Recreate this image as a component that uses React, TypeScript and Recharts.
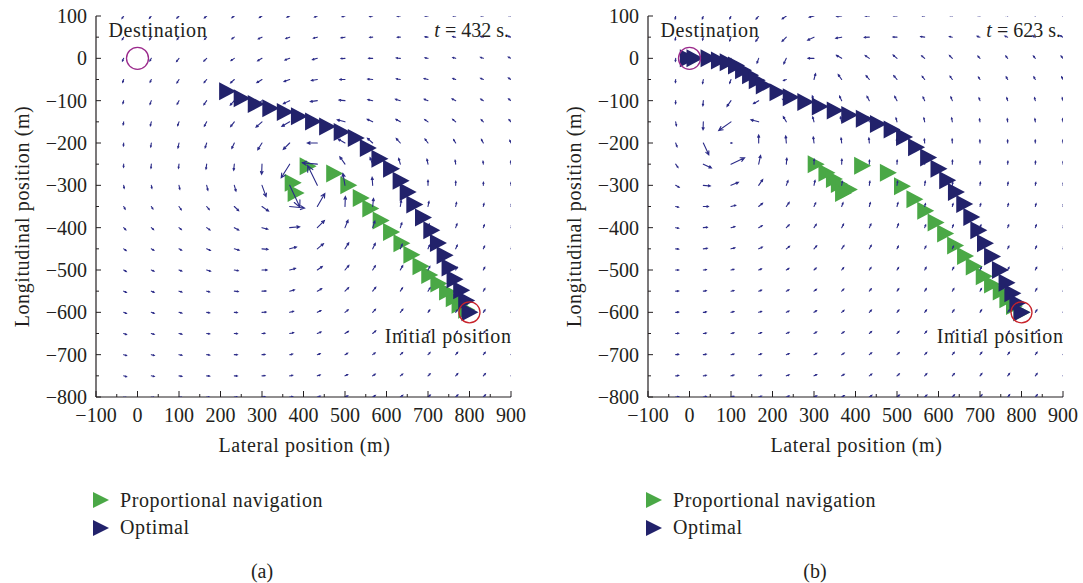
import React from 'react';
import { ScatterChart, Scatter, XAxis, YAxis, ReferenceDot } from 'recharts';

// quiver grid (m)
const FIELD_X = [-33.3, 33.3, 100, 166.7, 233.3, 300, 366.7, 433.3, 500, 566.7, 633.3, 700, 766.7, 833.3, 900];
const FIELD_Y = [100, 50, 0, -50, -100, -150, -200, -250, -300, -350, -400, -450, -500, -550, -600, -650, -700, -750, -800];

// arrow direction (deg, counter-clockwise from +x) and drawn magnitude, panel (a)
const ANGLE_A = [
  [235, 230, 225, 220, 215, 210, 205, 200, 195, 190, 185, 180, 175, 170, 165],
  [240, 235, 230, 225, 215, 205, 200, 195, 190, 185, 180, 175, 170, 165, 160],
  [245, 240, 232, 225, 215, 210, 200, 195, 185, 180, 175, 170, 165, 160, 155],
  [250, 245, 238, 230, 222, 212, 200, 190, 180, 175, 170, 165, 160, 155, 150],
  [255, 250, 242, 235, 228, 218, 205, 188, 175, 168, 163, 158, 153, 148, 145],
  [260, 256, 250, 242, 232, 222, 210, 185, 165, 155, 150, 145, 140, 135, 132],
  [265, 262, 258, 252, 245, 238, 225, 180, 150, 138, 132, 127, 122, 118, 115],
  [267, 265, 263, 262, 264, 268, 238, 175, 125, 112, 106, 102, 98, 96, 95],
  [280, 281, 282, 284, 286, 290, 295, 116, 100, 94, 92, 90, 89, 88, 88],
  [300, 302, 305, 310, 316, 325, 354, 60, 88, 84, 81, 79, 78, 77, 76],
  [315, 318, 321, 325, 331, 345, 5, 45, 68, 72, 72, 71, 70, 69, 68],
  [325, 328, 332, 337, 344, 355, 15, 40, 58, 64, 67, 67, 66, 65, 64],
  [330, 334, 338, 343, 349, 0, 15, 35, 50, 57, 61, 62, 62, 61, 60],
  [335, 338, 342, 347, 353, 3, 15, 30, 44, 52, 56, 58, 58, 58, 58],
  [338, 341, 345, 350, 356, 4, 14, 26, 38, 46, 51, 54, 55, 55, 55],
  [340, 343, 347, 352, 357, 4, 12, 22, 33, 41, 46, 50, 52, 53, 53],
  [342, 345, 349, 353, 358, 4, 11, 20, 29, 36, 42, 46, 49, 50, 50],
  [344, 347, 350, 354, 358, 3, 10, 18, 26, 33, 38, 43, 46, 47, 48],
  [345, 348, 351, 355, 358, 3, 9, 16, 23, 30, 35, 40, 43, 45, 46],
];
const MAG_A = [
  [3, 3, 3, 3, 3, 3, 3, 3, 3, 3, 3, 3, 3, 3, 3],
  [3, 3, 3, 3, 3, 4, 4, 4, 4, 3, 3, 3, 3, 3, 3],
  [3, 3, 4, 4, 4, 5, 5, 5, 4, 4, 4, 3, 3, 3, 3],
  [3, 3, 4, 4, 5, 6, 6, 6, 5, 5, 4, 4, 3, 3, 3],
  [3, 4, 4, 5, 6, 7, 7, 7, 6, 5, 5, 4, 4, 3, 3],
  [3, 4, 4, 5, 6, 8, 9, 9, 8, 6, 5, 4, 4, 3, 3],
  [3, 4, 5, 5, 6, 8, 9, 10, 8, 7, 6, 5, 4, 4, 3],
  [3, 4, 4, 5, 6, 10, 16, 15, 9, 7, 6, 5, 4, 3, 3],
  [3, 3, 4, 5, 6, 12, 24, 22, 12, 8, 6, 5, 4, 3, 3],
  [3, 3, 4, 4, 6, 8, 15, 15, 10, 8, 6, 5, 4, 3, 3],
  [3, 3, 3, 4, 5, 6, 10, 10, 8, 7, 5, 4, 4, 3, 3],
  [3, 3, 3, 4, 5, 6, 7, 8, 7, 6, 5, 4, 4, 3, 3],
  [3, 3, 3, 4, 4, 5, 6, 6, 6, 5, 5, 4, 3, 3, 3],
  [3, 3, 3, 3, 4, 4, 5, 5, 5, 5, 4, 4, 3, 3, 3],
  [3, 3, 3, 3, 3, 4, 4, 4, 4, 4, 4, 3, 3, 3, 3],
  [3, 3, 3, 3, 3, 3, 4, 4, 4, 4, 3, 3, 3, 3, 3],
  [3, 3, 3, 3, 3, 3, 3, 3, 3, 3, 3, 3, 3, 3, 3],
  [3, 3, 3, 3, 3, 3, 3, 3, 3, 3, 3, 3, 3, 3, 3],
  [3, 3, 3, 3, 3, 3, 3, 3, 3, 3, 3, 3, 3, 3, 3],
];

// panel (b)
const ANGLE_B = [
  [260, 250, 245, 230, 215, 195, 185, 180, 175, 170, 165, 160, 155, 150, 150],
  [260, 255, 250, 235, 225, 205, 190, 182, 178, 172, 168, 162, 158, 155, 150],
  [265, 260, 255, 250, 245, 180, 150, 145, 140, 140, 135, 135, 130, 130, 130],
  [265, 260, 250, 240, 200, 75, 125, 130, 130, 128, 125, 122, 120, 120, 118],
  [268, 265, 235, 210, 160, 110, 115, 118, 118, 115, 112, 110, 108, 105, 105],
  [280, 268, 215, 165, 120, 105, 105, 105, 105, 102, 100, 100, 98, 98, 98],
  [290, 295, 0, 90, 95, 97, 97, 95, 95, 95, 93, 93, 92, 92, 92],
  [305, 335, 25, 78, 85, 88, 88, 88, 88, 88, 88, 88, 86, 86, 86],
  [330, 355, 22, 55, 70, 78, 80, 82, 82, 82, 82, 82, 82, 80, 80],
  [345, 0, 15, 40, 55, 65, 70, 75, 75, 75, 75, 75, 75, 75, 75],
  [350, 5, 15, 30, 45, 55, 62, 65, 68, 70, 70, 70, 70, 70, 70],
  [355, 8, 15, 25, 38, 48, 55, 60, 63, 65, 66, 66, 66, 66, 66],
  [0, 8, 15, 22, 32, 42, 50, 55, 58, 60, 62, 62, 62, 62, 62],
  [2, 8, 14, 20, 28, 37, 45, 50, 54, 57, 58, 60, 60, 60, 60],
  [4, 8, 13, 18, 25, 33, 40, 46, 50, 53, 55, 57, 57, 57, 57],
  [5, 9, 13, 17, 23, 30, 37, 42, 47, 50, 52, 54, 55, 55, 55],
  [6, 9, 13, 16, 21, 27, 33, 39, 44, 47, 50, 52, 53, 53, 53],
  [7, 10, 13, 16, 20, 25, 31, 36, 41, 45, 48, 50, 51, 51, 51],
  [8, 10, 13, 16, 19, 24, 29, 34, 38, 42, 45, 48, 50, 50, 50],
];
const MAG_B = [
  [3, 3, 3, 4, 5, 5, 5, 4, 4, 3, 3, 3, 3, 3, 3],
  [3, 3, 4, 5, 6, 7, 6, 5, 4, 4, 3, 3, 3, 3, 3],
  [3, 3, 4, 5, 6, 6, 6, 5, 5, 4, 4, 3, 3, 3, 3],
  [3, 4, 4, 4, 3, 6, 6, 5, 5, 4, 4, 3, 3, 3, 3],
  [3, 5, 7, 6, 4, 5, 5, 5, 5, 4, 4, 3, 3, 3, 3],
  [4, 8, 15, 8, 6, 5, 5, 5, 4, 4, 4, 3, 3, 3, 3],
  [4, 13, 1, 8, 7, 6, 5, 5, 4, 4, 4, 3, 3, 3, 3],
  [4, 9, 15, 9, 6, 5, 5, 4, 4, 4, 4, 3, 3, 3, 3],
  [4, 7, 8, 7, 5, 5, 4, 4, 4, 4, 3, 3, 3, 3, 3],
  [3, 5, 5, 5, 5, 4, 4, 4, 4, 3, 3, 3, 3, 3, 3],
  [3, 4, 4, 4, 4, 4, 4, 4, 4, 3, 3, 3, 3, 3, 3],
  [3, 4, 4, 4, 4, 4, 4, 4, 3, 3, 3, 3, 3, 3, 3],
  [3, 3, 3, 3, 3, 3, 3, 3, 3, 3, 3, 3, 3, 3, 3],
  [3, 3, 3, 3, 3, 3, 3, 3, 3, 3, 3, 3, 3, 3, 3],
  [3, 3, 3, 3, 3, 3, 3, 3, 3, 3, 3, 3, 3, 3, 3],
  [3, 3, 3, 3, 3, 3, 3, 3, 3, 3, 3, 3, 3, 3, 3],
  [3, 3, 3, 3, 3, 3, 3, 3, 3, 3, 3, 3, 3, 3, 3],
  [3, 3, 3, 3, 3, 3, 3, 3, 3, 3, 3, 3, 3, 3, 3],
  [3, 3, 3, 3, 3, 3, 3, 3, 3, 3, 3, 3, 3, 3, 3],
];

// trajectories [lateral, longitudinal] (m)
const OPTIMAL_A = [
  [216, -78], [251, -94], [285, -108], [320, -118], [355, -127], [389, -137], [423, -149],
  [457, -161], [492, -174], [526, -188], [555, -212], [583, -237], [611, -261], [634, -289],
  [651, -316], [667, -345], [688, -376], [708, -406], [724, -436], [740, -465], [752, -494],
  [764, -522], [780, -548], [792, -572], [800, -600],
];
const PROPNAV_A = [
  [792, -594], [776, -582], [762, -567], [746, -551], [725, -532], [703, -512], [682, -491],
  [660, -464], [636, -437], [611, -410], [586, -383], [561, -355], [538, -330], [508, -300],
  [474, -272], [410, -255], [374, -294], [381, -318],
];
const OPTIMAL_B = [
  [-4, 0], [12, 0], [46, 0], [71, -5], [92, -9], [112, -17], [129, -28], [146, -40], [162, -52],
  [179, -64], [212, -80], [244, -92], [279, -103], [314, -114], [350, -123], [385, -134],
  [420, -143], [454, -155], [487, -168], [517, -186], [546, -210], [575, -234], [600, -261],
  [621, -288], [642, -316], [662, -344], [679, -375], [696, -406], [712, -437], [729, -468],
  [748, -500], [764, -530], [778, -555], [790, -578], [800, -600],
];
const PROPNAV_B = [
  [304, -250], [330, -270], [348, -285], [360, -297], [372, -305], [384, -310], [370, -318],
  [416, -254], [478, -270], [512, -302], [542, -333], [568, -360], [593, -388], [616, -414],
  [640, -442], [664, -467], [685, -492], [709, -515], [729, -534], [750, -551], [766, -569],
  [782, -585], [800, -600],
];

const DESTINATION = [0, 0];
const INITIAL = [800, -600];
const TIMES = ['432', '623'];
const CAPTIONS = ['(a)', '(b)'];
const SERIES_NAMES = ['Proportional navigation', 'Optimal'];

const X_TICKS = [-100, -50, 0, 50, 100, 150, 200, 250, 300, 350, 400, 450, 500, 550, 600, 650, 700, 750, 800, 850, 900];
const Y_TICKS = [-800, -750, -700, -650, -600, -550, -500, -450, -400, -350, -300, -250, -200, -150, -100, -50, 0, 50, 100];

const FONT = '"Liberation Serif", "DejaVu Serif", serif';
const INK = '#231f20';
const NAVY = '#22226b';
const GREEN = '#4aa846';
const ARROW = '#2b2b88';
const PURPLE = '#9b2a8c';
const RED = '#c8232b';

const fmt = (v: number) => (v < 0 ? '\u2212' + Math.abs(v) : String(v));
const toPts = (pairs: number[][]) => pairs.map(([x, y]) => ({ x, y }));
const buildField = (ang: number[][], mag: number[][]) =>
  FIELD_Y.flatMap((y, i) => FIELD_X.map((x, j) => ({ x, y, ang: ang[i][j], mag: mag[i][j] })));

const XTick = (props: any) => {
  const { x, y, payload } = props;
  const v = payload.value;
  const major = v % 100 === 0;
  return (
    <g>
      <line x1={x} x2={x} y1={y} y2={y - (major ? 6 : 3)} stroke={INK} />
      {major && (
        <text x={x} y={y + 25} textAnchor="middle" fontSize={20} fontFamily={FONT} fill={INK}>
          {fmt(v)}
        </text>
      )}
    </g>
  );
};

const YTick = (props: any) => {
  const { x, y, payload } = props;
  const v = payload.value;
  const major = v % 100 === 0;
  return (
    <g>
      <line x1={x} x2={x + (major ? 5 : 3)} y1={y} y2={y} stroke={INK} />
      {major && (
        <text x={x - 9} y={y + 7} textAnchor="end" fontSize={20} fontFamily={FONT} fill={INK}>
          {fmt(v)}
        </text>
      )}
    </g>
  );
};

const XLabel = (props: any) => {
  const { viewBox } = props;
  if (!viewBox) return null;
  return (
    <text x={viewBox.x + viewBox.width / 2 + 1} y={viewBox.y + 55} textAnchor="middle"
      fontSize={20} letterSpacing={0.6} fontFamily={FONT} fill={INK}>
      Lateral position (m)
    </text>
  );
};

const YLabel = (props: any) => {
  const { viewBox } = props;
  if (!viewBox) return null;
  const cx = viewBox.x + viewBox.width - 74;
  const cy = viewBox.y + viewBox.height / 2 + 10;
  return (
    <text x={cx} y={cy} transform={`rotate(-90 ${cx} ${cy})`} textAnchor="middle" dominantBaseline="central"
      fontSize={20} letterSpacing={0.6} fontFamily={FONT} fill={INK}>
      Longitudinal position (m)
    </text>
  );
};

const FieldArrow = (props: any) => {
  const { cx, cy, payload } = props;
  if (cx == null || cy == null) return null;
  const a = (payload.ang * Math.PI) / 180;
  const L = payload.mag;
  const tx = cx + L * Math.cos(a);
  const ty = cy - L * Math.sin(a);
  const h = Math.max(1.2, L * 0.3);
  const b1 = a + Math.PI - 0.45;
  const b2 = a + Math.PI + 0.45;
  const d = `M${cx},${cy}L${tx},${ty}M${tx + h * Math.cos(b1)},${ty - h * Math.sin(b1)}L${tx},${ty}L${tx + h * Math.cos(b2)},${ty - h * Math.sin(b2)}`;
  return <path d={d} stroke={ARROW} strokeWidth={1.1} fill="none" strokeLinecap="round" />;
};

const Tri = (color: string) => (props: any) => {
  const { cx, cy } = props;
  if (cx == null || cy == null) return null;
  return <path d={`M${cx - 8},${cy - 9}L${cx + 9},${cy}L${cx - 8},${cy + 9}Z`} fill={color} />;
};

const DestMark = (props: any) => {
  const { cx, cy } = props;
  return (
    <g>
      <circle cx={cx} cy={cy} r={11} fill="none" stroke={PURPLE} strokeWidth={1.3} />
      <text x={cx - 29} y={cy - 21} fontSize={20} letterSpacing={0.6} fontFamily={FONT} fill={INK}>Destination</text>
    </g>
  );
};

const InitMark = (props: any) => {
  const { cx, cy } = props;
  return (
    <g>
      <circle cx={cx} cy={cy} r={10.5} fill="none" stroke={RED} strokeWidth={1.3} />
      <text x={cx + 42} y={cy + 31} textAnchor="end" fontSize={20} letterSpacing={0.6} fontFamily={FONT} fill={INK}>
        Initial position
      </text>
    </g>
  );
};

function Panel({ left, axisW, right, field, optimal, propnav, time }: any) {
  return (
    <div style={{ position: 'absolute', left, top: 0 }}>
      <ScatterChart width={540} height={470} margin={{ top: 16, right, bottom: 0, left: 0 }}>
        <XAxis type="number" dataKey="x" domain={[-100, 900]} ticks={X_TICKS} interval={0} allowDataOverflow
          tickSize={0} tickMargin={0} tickLine={false} tick={<XTick />} height={73}
          axisLine={{ stroke: INK, strokeWidth: 1.2 }} label={<XLabel />} />
        <YAxis type="number" dataKey="y" domain={[-800, 100]} ticks={Y_TICKS} interval={0} allowDataOverflow
          tickSize={0} tickMargin={0} tickLine={false} tick={<YTick />} width={axisW}
          axisLine={{ stroke: INK, strokeWidth: 1.2 }} label={<YLabel />} />
        <Scatter data={toPts(propnav)} shape={Tri(GREEN)} isAnimationActive={false} />
        <Scatter data={field} shape={FieldArrow} isAnimationActive={false} />
        <Scatter data={toPts(optimal)} shape={Tri(NAVY)} isAnimationActive={false} />
        <Scatter data={toPts([DESTINATION])} shape={DestMark} isAnimationActive={false} />
        <Scatter data={toPts([INITIAL])} shape={InitMark} isAnimationActive={false} />
        <ReferenceDot x={900} y={100} r={0} ifOverflow="visible"
          shape={(p: any) => (
            <text x={p.cx - 2} y={p.cy + 21} textAnchor="end" fontSize={20} fontFamily={FONT} fill={INK}>
              <tspan fontStyle="italic">t</tspan> = {time} s.
            </text>
          )} />
      </ScatterChart>
    </div>
  );
}

function Legend({ x, caption }: { x: number; caption: string }) {
  return (
    <g fontFamily={FONT} fontSize={20} fill={INK}>
      <path d={`M${x - 8},${492}L${x + 8},${500}L${x - 8},${508}Z`} fill={GREEN} />
      <text x={x + 19} y={507} letterSpacing={0.6}>{SERIES_NAMES[0]}</text>
      <path d={`M${x - 8},${520}L${x + 8},${528}L${x - 8},${536}Z`} fill={NAVY} />
      <text x={x + 19} y={534} letterSpacing={0.6}>{SERIES_NAMES[1]}</text>
      <text x={x + 161} y={578} textAnchor="middle">{caption}</text>
    </g>
  );
}

export default function App() {
  return (
    <div style={{ position: 'absolute', left: 0, top: 0, width: 1083, height: 583, background: '#fff', overflow: 'hidden' }}>
      <Panel left={0} axisW={96} right={29} field={buildField(ANGLE_A, MAG_A)}
        optimal={OPTIMAL_A} propnav={PROPNAV_A} time={TIMES[0]} />
      <Panel left={540} axisW={108} right={17} field={buildField(ANGLE_B, MAG_B)}
        optimal={OPTIMAL_B} propnav={PROPNAV_B} time={TIMES[1]} />
      <svg width={1083} height={583} style={{ position: 'absolute', left: 0, top: 0, pointerEvents: 'none' }}>
        <Legend x={101} caption={CAPTIONS[0]} />
        <Legend x={654} caption={CAPTIONS[1]} />
      </svg>
    </div>
  );
}
